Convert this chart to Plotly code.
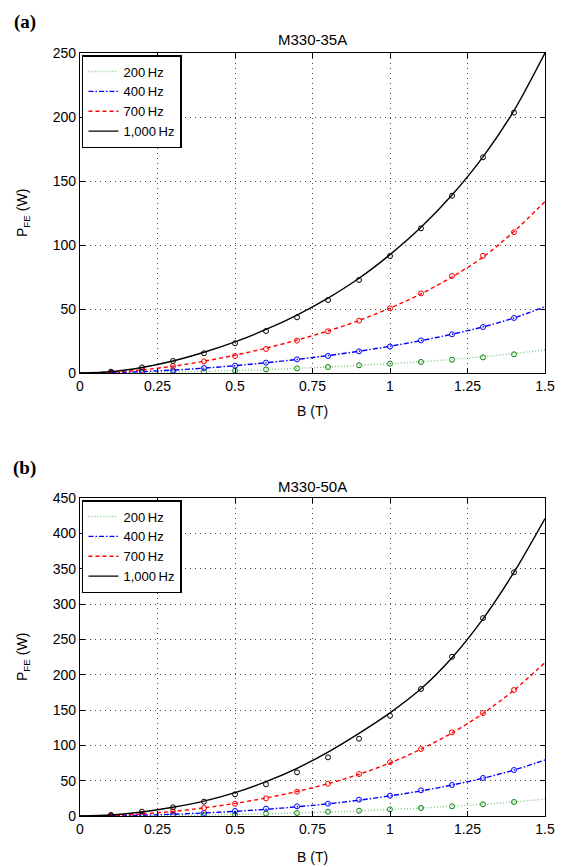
import plotly.graph_objects as go

# ---------------- data ----------------
B_pts = [0.1, 0.2, 0.3, 0.4, 0.5, 0.6, 0.7, 0.8, 0.9, 1.0, 1.1, 1.2, 1.3, 1.4]
B_fit = [0.0, 0.1, 0.2, 0.3, 0.4, 0.5, 0.6, 0.7, 0.8, 0.9, 1.0, 1.1, 1.2, 1.3, 1.4, 1.5]

labels = ["200\u2009Hz", "400\u2009Hz", "700\u2009Hz", "1,000\u2009Hz"]

# Panel (a) M330-35A
a200_pts = [0.1, 0.4, 0.7, 1.1, 1.8, 2.8, 3.6, 4.7, 6.0, 7.3, 8.6, 10.4, 12.2, 14.6]
a400_pts = [0.3, 1.0, 2.1, 3.9, 5.7, 8.1, 10.7, 13.3, 16.9, 20.6, 25.5, 30.2, 35.9, 43.0]
a700_pts = [0.5, 2.3, 5.5, 9.1, 13.3, 18.8, 25.3, 32.6, 40.9, 50.5, 62.2, 75.8, 91.6, 110.0]
a1000_pts = [1.0, 4.4, 9.4, 15.4, 23.2, 32.8, 43.5, 57.0, 72.7, 91.4, 113.0, 138.5, 168.5, 203.4]

a200_fit = [0, 0.1, 0.4, 0.8, 1.3, 2.0, 2.7, 3.6, 4.7, 5.9, 7.3, 8.8, 10.6, 12.7, 15.2, 18.0]
a400_fit = [0, 0.3, 1.1, 2.3, 3.8, 5.7, 8.0, 10.6, 13.6, 17.0, 20.9, 25.3, 30.3, 36.0, 43.0, 51.8]
a700_fit = [0, 0.6, 2.4, 5.3, 9.2, 13.9, 19.4, 25.7, 32.8, 41.0, 50.7, 61.8, 75.0, 90.5, 110.5, 134.0]
a1000_fit = [0, 1.0, 4.3, 9.4, 16.2, 24.3, 34.0, 45.3, 58.5, 74.0, 92.5, 113.8, 139.0, 168.8, 205.0, 250.0]

# Panel (b) M330-50A
b200_pts = [0.1, 0.4, 0.8, 1.2, 1.9, 3.3, 4.2, 6.1, 7.5, 9.4, 11.3, 13.7, 16.5, 19.8]
b400_pts = [0.3, 1.0, 1.9, 4.2, 7.1, 10.4, 13.7, 17.4, 23.1, 28.8, 36.3, 43.9, 53.8, 65.1]
b700_pts = [0.5, 2.8, 6.6, 11.3, 17.4, 25.0, 34.4, 45.7, 59.4, 76.0, 94.8, 118.4, 145.7, 178.3]
b1000_pts = [1.4, 6.1, 12.3, 20.3, 30.7, 44.8, 61.8, 83.0, 109.4, 141.9, 179.7, 225.4, 280.0, 344.8]

b200_fit = [0, 0.1, 0.4, 0.9, 1.5, 2.3, 3.2, 4.3, 5.6, 7.2, 9.2, 11.3, 13.8, 16.6, 19.9, 24.0]
b400_fit = [0, 0.3, 1.2, 2.5, 4.3, 6.6, 9.5, 13.0, 17.2, 22.3, 28.5, 35.5, 43.8, 53.5, 65.0, 79.2]
b700_fit = [0, 0.7, 2.9, 6.5, 11.5, 17.8, 25.5, 34.7, 45.7, 59.0, 75.0, 94.5, 117.5, 145.0, 178.0, 217.0]
b1000_fit = [0, 1.5, 5.7, 12.3, 21.0, 33.0, 48.6, 67.5, 90.5, 117.0, 146.0, 180.0, 224.0, 279.0, 345.0, 421.0]

x_ticks = [0, 0.25, 0.5, 0.75, 1, 1.25, 1.5]
x_ticklabels = ["0", "0.25", "0.5", "0.75", "1", "1.25", "1.5"]
ya_ticks = [0, 50, 100, 150, 200, 250]
yb_ticks = [0, 50, 100, 150, 200, 250, 300, 350, 400, 450]

# ---------------- styles ----------------
line_colors = ["rgb(130,200,130)", "rgb(0,0,255)", "rgb(255,0,0)", "rgb(0,0,0)"]
marker_colors = ["rgb(0,128,0)", "rgb(0,0,255)", "rgb(255,0,0)", "rgb(0,0,0)"]
dashes = ["1px,2px", "5px,2px,1.5px,2px", "4px,3px", "solid"]

FONT = "Liberation Sans, Arial, sans-serif"

fig = go.Figure()

panels = [
    ("x", "y", "legend", [a200_fit, a400_fit, a700_fit, a1000_fit], [a200_pts, a400_pts, a700_pts, a1000_pts]),
    ("x2", "y2", "legend2", [b200_fit, b400_fit, b700_fit, b1000_fit], [b200_pts, b400_pts, b700_pts, b1000_pts]),
]

for xa, ya, leg, fits, pts in panels:
    for i in range(4):
        fig.add_trace(go.Scatter(
            x=B_pts, y=pts[i], mode="markers", xaxis=xa, yaxis=ya,
            marker=dict(symbol="circle-open", size=5, color=marker_colors[i], line=dict(width=1)),
            showlegend=False, hoverinfo="skip"))
    for i in range(4):
        fig.add_trace(go.Scatter(
            x=B_fit, y=fits[i], mode="lines", xaxis=xa, yaxis=ya, name=labels[i],
            line=dict(color=line_colors[i], dash=dashes[i], width=1.4, shape="spline", smoothing=0.8),
            legend=leg))

def px_x(p):
    return (p - 80) / 473.0

def px_y(p):
    return (816 - p) / 763.0

axis_common = dict(
    showline=True, linecolor="black", linewidth=1.2, mirror="ticks",
    ticks="inside", ticklen=5, tickcolor="black", tickwidth=1,
    showgrid=True, gridcolor="rgba(40,40,40,0.85)", gridwidth=1, griddash="1px,4px",
    zeroline=False, tickfont=dict(family=FONT, size=14, color="black"),
)

legend_common = dict(
    xanchor="left", yanchor="top", bgcolor="white", bordercolor="black", borderwidth=1.5,
    font=dict(family=FONT, size=13), tracegroupgap=0, itemwidth=30,
)

fig.update_layout(
    width=567, height=867,
    margin=dict(l=80, r=14, t=53, b=51),
    paper_bgcolor="white", plot_bgcolor="white",
    font=dict(family=FONT, size=14, color="black"),
    xaxis=dict(domain=[0, 1], anchor="y", range=[0, 1.5], tickvals=x_ticks, ticktext=x_ticklabels, **axis_common),
    yaxis=dict(domain=[px_y(373), 1], anchor="x", range=[0, 250], tickvals=ya_ticks, **axis_common),
    xaxis2=dict(domain=[0, 1], anchor="y2", range=[0, 1.5], tickvals=x_ticks, ticktext=x_ticklabels, **axis_common),
    yaxis2=dict(domain=[0, px_y(498)], anchor="x2", range=[0, 450], tickvals=yb_ticks, **axis_common),
    legend=dict(x=px_x(82), y=px_y(55), **legend_common),
    legend2=dict(x=px_x(82), y=px_y(500), **legend_common),
    showlegend=True,
)

annotations = [
    dict(text="M330-35A", x=0.5, y=px_y(40), font=dict(size=15)),
    dict(text="M330-50A", x=0.5, y=px_y(487), font=dict(size=15)),
    dict(text="<b>(a)</b>", x=px_x(24), y=px_y(22),
         font=dict(family="Liberation Serif, Times New Roman, serif", size=19)),
    dict(text="<b>(b)</b>", x=px_x(24), y=px_y(468),
         font=dict(family="Liberation Serif, Times New Roman, serif", size=19)),
    dict(text="B (T)", x=0.5, y=px_y(411), font=dict(size=14)),
    dict(text="B (T)", x=0.5, y=px_y(857), font=dict(size=14)),
    dict(text="P<sub>FE</sub> (W)", x=px_x(22), y=px_y(213), textangle=-90, font=dict(size=14)),
    dict(text="P<sub>FE</sub> (W)", x=px_x(22), y=px_y(657), textangle=-90, font=dict(size=14)),
]
for a in annotations:
    a.update(xref="paper", yref="paper", showarrow=False, xanchor="center", yanchor="middle")
fig.update_layout(annotations=annotations)

fig.write_html("out.html")
